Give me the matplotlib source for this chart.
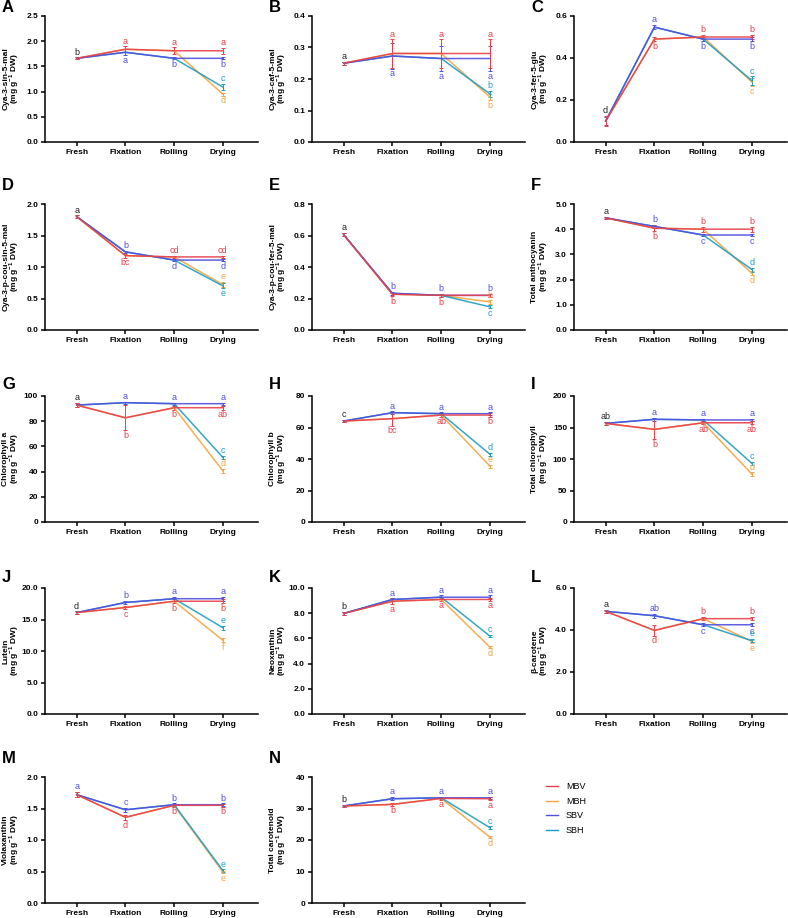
import numpy as np
import matplotlib
matplotlib.use('Agg')
import matplotlib.pyplot as plt
from matplotlib.lines import Line2D

plt.rcParams['font.family'] = ['Liberation Sans', 'DejaVu Sans']
plt.rcParams['mathtext.fontset'] = 'custom'
plt.rcParams['mathtext.rm'] = 'Liberation Sans'
plt.rcParams['mathtext.bf'] = 'Liberation Sans:bold'

stages = ['Fresh', 'Fixation', 'Rolling', 'Drying']
series = ['MBV', 'MBH', 'SBV', 'SBH']
colors = {'MBV': '#e8404a', 'MBH': '#f4a444', 'SBV': '#4f4fe0', 'SBH': '#1f9dbf', 'k': '#222222'}

panel_ids = list('ABCDEFGHIJKLMN')
ylabels = ['Cya-3-sin-5-mal', 'Cya-3-caf-5-mal', 'Cya-3-fer-5-glu',
           'Cya-3-p-cou-sin-5-mal', 'Cya-3-p-cou-fer-5-mal', 'Total anthocyanin',
           'Chlorophyll a', 'Chlorophyll b', 'Total chlorophyll',
           'Lutein', 'Neoxanthin', 'β-carotene',
           'Violaxanthin', 'Total carotenoid']
ymax = [2.5, 0.4, 0.6, 2.0, 0.8, 5.0, 100, 80, 200, 20, 10, 6, 2.0, 40]
ystep = [0.5, 0.1, 0.2, 0.5, 0.2, 1.0, 20, 20, 50, 5, 2, 2, 0.5, 10]
ydec = [1, 1, 1, 1, 1, 1, 0, 0, 0, 1, 1, 1, 1, 0]

mbv = [[1.66, 1.84, 1.81, 1.81], [0.25, 0.281, 0.281, 0.281], [0.10, 0.49, 0.50, 0.50],
       [1.80, 1.18, 1.16, 1.16], [0.605, 0.227, 0.22, 0.22], [4.45, 4.04, 4.0, 4.0],
       [92.8, 82.7, 90.7, 90.7], [64.1, 65.6, 67.9, 67.9], [156.5, 147, 157.5, 157.5],
       [16.1, 16.9, 17.9, 17.9], [7.98, 8.95, 9.09, 9.09], [4.89, 3.98, 4.54, 4.54],
       [1.72, 1.36, 1.55, 1.55], [30.8, 31.3, 33.2, 33.1]]
sbv = [[1.66, 1.78, 1.66, 1.66], [0.25, 0.273, 0.265, 0.265], [0.10, 0.547, 0.49, 0.49],
       [1.80, 1.24, 1.11, 1.11], [0.605, 0.233, 0.22, 0.22], [4.45, 4.11, 3.77, 3.77],
       [92.8, 94.7, 93.9, 93.9], [64.1, 69.4, 68.8, 68.8], [156.5, 163, 162, 162],
       [16.1, 17.7, 18.3, 18.3], [7.98, 9.09, 9.27, 9.27], [4.89, 4.68, 4.25, 4.25],
       [1.72, 1.48, 1.56, 1.56], [30.8, 33.1, 33.4, 33.4]]
# MBH follows MBV and SBH follows SBV until drying
mbh_dry = [0.95, 0.143, 0.286, 0.72, 0.178, 2.25, 40.5, 35.5, 76, 11.7, 5.30, 3.46, 0.49, 20.9]
sbh_dry = [1.09, 0.153, 0.292, 0.70, 0.147, 2.40, 51.2, 43, 93, 13.7, 6.18, 3.49, 0.515, 23.9]

mbv_err = [[0.02, 0.06, 0.07, 0.06], [0.005, 0.045, 0.045, 0.045], [0.025, 0.01, 0.01, 0.01],
           [0.02, 0.03, 0.02, 0.02], [0.01, 0.01, 0.01, 0.01], [0.05, 0.12, 0.1, 0.1],
           [1.5, 10, 1.5, 1.5], [0.8, 4.5, 1.0, 1.0], [2.5, 16, 2.5, 2.5],
           [0.2, 0.3, 0.3, 0.3], [0.1, 0.25, 0.1, 0.1], [0.06, 0.25, 0.08, 0.08],
           [0.04, 0.04, 0.02, 0.02], [0.4, 0.4, 0.4, 0.4]]
sbv_err = [[0.02, 0.06, 0.02, 0.02], [0.005, 0.04, 0.04, 0.04], [0.02, 0.01, 0.01, 0.01],
           [0.02, 0.02, 0.02, 0.02], [0.01, 0.01, 0.01, 0.01], [0.05, 0.05, 0.05, 0.05],
           [1.5, 0.8, 0.8, 0.8], [0.8, 0.8, 0.8, 0.8], [2.5, 2, 2, 2],
           [0.2, 0.3, 0.3, 0.3], [0.1, 0.1, 0.15, 0.15], [0.06, 0.1, 0.08, 0.08],
           [0.04, 0.03, 0.02, 0.02], [0.4, 0.5, 0.4, 0.4]]
mbh_dry_err = [0.03, 0.01, 0.02, 0.04, 0.01, 0.08, 1.5, 1.0, 3, 0.3, 0.1, 0.08, 0.02, 0.4]
sbh_dry_err = [0.06, 0.01, 0.02, 0.04, 0.01, 0.08, 1.5, 1.0, 3, 0.3, 0.1, 0.08, 0.02, 0.4]

# significance letters: (stage, series, text, up/down)
letters = [
    [(0, 'k', 'b', 'u'), (1, 'MBV', 'a', 'u'), (1, 'SBV', 'a', 'd'), (2, 'MBV', 'a', 'u'), (2, 'SBV', 'b', 'd'),
     (3, 'MBV', 'a', 'u'), (3, 'SBV', 'b', 'd'), (3, 'SBH', 'c', 'u'), (3, 'MBH', 'd', 'd')],
    [(0, 'k', 'a', 'u'), (1, 'MBV', 'a', 'u'), (1, 'SBV', 'a', 'd'), (2, 'MBV', 'a', 'u'), (2, 'SBV', 'a', 'd'),
     (3, 'MBV', 'a', 'u'), (3, 'SBV', 'a', 'd'), (3, 'SBH', 'b', 'u'), (3, 'MBH', 'b', 'd')],
    [(0, 'k', 'd', 'u'), (1, 'SBV', 'a', 'u'), (1, 'MBV', 'b', 'd'), (2, 'MBV', 'b', 'u'), (2, 'SBV', 'b', 'd'),
     (3, 'MBV', 'b', 'u'), (3, 'SBV', 'b', 'd'), (3, 'SBH', 'c', 'u'), (3, 'MBH', 'c', 'd')],
    [(0, 'k', 'a', 'u'), (1, 'SBV', 'b', 'u'), (1, 'MBV', 'bc', 'd'), (2, 'MBV', 'cd', 'u'), (2, 'SBV', 'd', 'd'),
     (3, 'MBV', 'cd', 'u'), (3, 'SBV', 'd', 'd'), (3, 'MBH', 'e', 'u'), (3, 'SBH', 'e', 'd')],
    [(0, 'k', 'a', 'u'), (1, 'SBV', 'b', 'u'), (1, 'MBV', 'b', 'd'), (2, 'SBV', 'b', 'u'), (2, 'MBV', 'b', 'd'),
     (3, 'SBV', 'b', 'u'), (3, 'MBH', 'b', 'u'), (3, 'SBH', 'c', 'd')],
    [(0, 'k', 'a', 'u'), (1, 'SBV', 'b', 'u'), (1, 'MBV', 'b', 'd'), (2, 'MBV', 'b', 'u'), (2, 'SBV', 'c', 'd'),
     (3, 'MBV', 'b', 'u'), (3, 'SBV', 'c', 'd'), (3, 'SBH', 'd', 'u'), (3, 'MBH', 'd', 'd')],
    [(0, 'k', 'a', 'u'), (1, 'SBV', 'a', 'u'), (1, 'MBV', 'b', 'd'), (2, 'SBV', 'a', 'u'), (2, 'MBV', 'b', 'd'),
     (3, 'SBV', 'a', 'u'), (3, 'MBV', 'ab', 'd'), (3, 'SBH', 'c', 'u'), (3, 'MBH', 'd', 'u')],
    [(0, 'k', 'c', 'u'), (1, 'SBV', 'a', 'u'), (1, 'MBV', 'bc', 'd'), (2, 'SBV', 'a', 'u'), (2, 'MBV', 'ab', 'd'),
     (3, 'SBV', 'a', 'u'), (3, 'MBV', 'b', 'd'), (3, 'SBH', 'd', 'u'), (3, 'MBH', 'e', 'u')],
    [(0, 'k', 'ab', 'u'), (1, 'SBV', 'a', 'u'), (1, 'MBV', 'b', 'd'), (2, 'SBV', 'a', 'u'), (2, 'MBV', 'ab', 'd'),
     (3, 'SBV', 'a', 'u'), (3, 'MBV', 'ab', 'd'), (3, 'SBH', 'c', 'u'), (3, 'MBH', 'd', 'u')],
    [(0, 'k', 'd', 'u'), (1, 'SBV', 'b', 'u'), (1, 'MBV', 'c', 'd'), (2, 'SBV', 'a', 'u'), (2, 'MBV', 'b', 'd'),
     (3, 'SBV', 'a', 'u'), (3, 'MBV', 'b', 'd'), (3, 'SBH', 'e', 'u'), (3, 'MBH', 'f', 'd')],
    [(0, 'k', 'b', 'u'), (1, 'SBV', 'a', 'u'), (1, 'MBV', 'a', 'd'), (2, 'SBV', 'a', 'u'), (2, 'MBV', 'a', 'd'),
     (3, 'SBV', 'a', 'u'), (3, 'MBV', 'a', 'd'), (3, 'SBH', 'c', 'u'), (3, 'MBH', 'd', 'd')],
    [(0, 'k', 'a', 'u'), (1, 'SBV', 'ab', 'u'), (1, 'MBV', 'd', 'd'), (2, 'MBV', 'b', 'u'), (2, 'SBV', 'c', 'd'),
     (3, 'MBV', 'b', 'u'), (3, 'SBV', 'c', 'd'), (3, 'SBH', 'e', 'u'), (3, 'MBH', 'e', 'd')],
    [(0, 'SBV', 'a', 'u'), (1, 'SBV', 'c', 'u'), (1, 'MBV', 'd', 'd'), (2, 'SBV', 'b', 'u'), (2, 'MBV', 'b', 'd'),
     (3, 'SBV', 'b', 'u'), (3, 'MBV', 'b', 'd'), (3, 'SBH', 'e', 'u'), (3, 'MBH', 'e', 'd')],
    [(0, 'k', 'b', 'u'), (1, 'SBV', 'a', 'u'), (1, 'MBV', 'b', 'd'), (2, 'SBV', 'a', 'u'), (2, 'MBV', 'a', 'd'),
     (3, 'SBV', 'a', 'u'), (3, 'MBV', 'a', 'd'), (3, 'SBH', 'c', 'u'), (3, 'MBH', 'd', 'd')],
]

W, H = 788, 918
fig = plt.figure(figsize=(W / 100, H / 100), dpi=100)
col_left = [45, 312, 574]
row_top = [16, 204, 396, 588, 777]
letter_base = [12, 190, 389, 582, 763]
aw, ah = 213, 126
x = np.arange(4)

for i, pid in enumerate(panel_ids):
    r, c = divmod(i, 3)
    ax = fig.add_axes([col_left[c] / W, 1 - (row_top[r] + ah) / H, aw / W, ah / H])
    vals = {'MBV': mbv[i], 'SBV': sbv[i],
            'MBH': mbv[i][:3] + [mbh_dry[i]], 'SBH': sbv[i][:3] + [sbh_dry[i]]}
    errs = {'MBV': mbv_err[i], 'SBV': sbv_err[i],
            'MBH': [0, 0, 0, mbh_dry_err[i]], 'SBH': [0, 0, 0, sbh_dry_err[i]]}
    for s in ['MBH', 'SBH', 'SBV', 'MBV']:
        ax.plot(x, vals[s], color=colors[s], lw=1.1, alpha=0.9, zorder=3)
        e = np.array(errs[s])
        m = e > 0
        ax.errorbar(x[m], np.array(vals[s])[m], yerr=e[m], fmt='none', ecolor=colors[s],
                    elinewidth=0.7, capsize=1.5, capthick=0.7, zorder=2)
    for st, s, txt, pos in letters[i]:
        key = 'MBV' if s == 'k' else s
        v, e = vals[key][st], errs[key][st]
        if pos == 'u':
            ax.annotate(txt, (st, v + e), xytext=(0, 0.5), textcoords='offset points',
                        ha='center', va='bottom', fontsize=6.5, color=colors[s])
        else:
            ax.annotate(txt, (st, v - e), xytext=(0, -0.5), textcoords='offset points',
                        ha='center', va='top', fontsize=6.5, color=colors[s])

    ax.set_xlim(-0.65, 3.72)
    ax.set_ylim(0, ymax[i])
    ticks = np.arange(0, ymax[i] + ystep[i] / 2, ystep[i])
    ax.set_yticks(ticks)
    ax.set_yticklabels([f'{t:.{ydec[i]}f}' for t in ticks], fontsize=6, fontweight='bold')
    ax.set_xticks(x)
    ax.set_xticklabels(stages, fontsize=6, fontweight='bold')
    for sp in ['top', 'right']:
        ax.spines[sp].set_visible(False)
    for sp in ['left', 'bottom']:
        ax.spines[sp].set_linewidth(1.1)
    ax.tick_params(width=1.1, length=3, pad=2)
    ax.set_ylabel(ylabels[i] + '\n' + r'(mg g$^{\mathbf{-1}}$ DW)', fontsize=6, fontweight='bold',
                  linespacing=0.75)
    ax.yaxis.set_label_coords(-24 / aw, 0.5)
    fig.text((col_left[c] - 43) / W, 1 - letter_base[r] / H, pid, fontsize=12,
             fontweight='bold', ha='left', va='baseline')

handles = [Line2D([], [], color=colors[s], lw=1.0) for s in series]
fig.legend(handles, series, loc='upper left', bbox_to_anchor=(538 / W, 1 - 774 / H),
           frameon=False, fontsize=6.5, handlelength=1.3, handletextpad=0.9, labelspacing=0.62)

fig.savefig('out.png', dpi=100)
